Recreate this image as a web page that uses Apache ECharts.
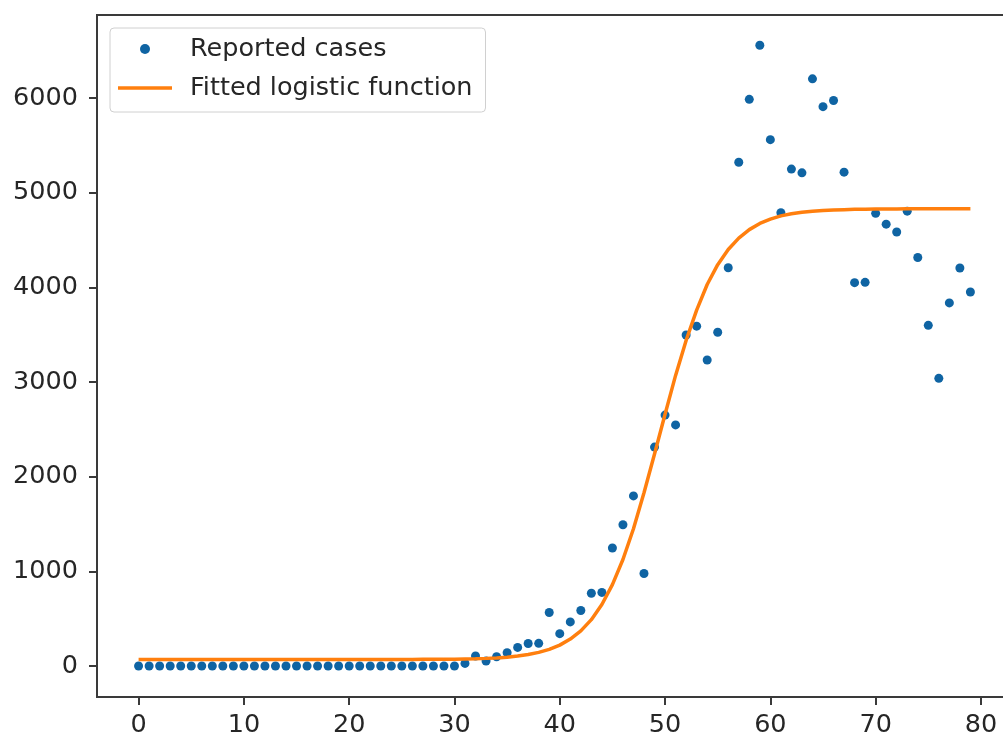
<!DOCTYPE html>
<html>
<head>
<meta charset="utf-8">
<title>Reported cases and fitted logistic function</title>
<script src="https://cdn.jsdelivr.net/npm/echarts@6/dist/echarts.min.js"></script>
<style>
  html, body { margin: 0; padding: 0; background: #ffffff; }
  #chart { width: 1003px; height: 738px; }
</style>
</head>
<body>
<div id="chart"></div>
<script>
// Day index of each observation
const days = [
  0, 1, 2, 3, 4, 5, 6, 7, 8, 9,
  10, 11, 12, 13, 14, 15, 16, 17, 18, 19,
  20, 21, 22, 23, 24, 25, 26, 27, 28, 29,
  30, 31, 32, 33, 34, 35, 36, 37, 38, 39,
  40, 41, 42, 43, 44, 45, 46, 47, 48, 49,
  50, 51, 52, 53, 54, 55, 56, 57, 58, 59,
  60, 61, 62, 63, 64, 65, 66, 67, 68, 69,
  70, 71, 72, 73, 74, 75, 76, 77, 78, 79
];

// Daily reported cases
const reportedCases = [
  0, 0, 0, 0, 0, 0, 0, 0, 0, 0,
  0, 0, 0, 0, 0, 0, 0, 0, 0, 0,
  0, 0, 0, 0, 0, 0, 0, 0, 0, 0,
  0, 28, 106, 53, 98, 141, 197, 238, 240, 566,
  342, 466, 587, 769, 778, 1247, 1492, 1797, 977, 2313,
  2651, 2547, 3497, 3590, 3233, 3526, 4207, 5322, 5986, 6557,
  5560, 4789, 5249, 5210, 6203, 5909, 5974, 5217, 4050, 4053,
  4782, 4668, 4585, 4805, 4316, 3599, 3039, 3836, 4204, 3951
];

// Fitted logistic curve evaluated on each day
const fittedCurve = [
  70, 70, 70, 70, 70, 70, 70, 70, 70, 70,
  70, 70, 70, 70, 70, 70, 70, 70, 70, 70,
  70, 70, 70, 70, 70, 70, 70, 71, 71, 72,
  73, 75, 77, 81, 86, 94, 105, 121, 144, 176,
  221, 285, 372, 490, 650, 860, 1125, 1450, 1830, 2240,
  2660, 3070, 3440, 3760, 4030, 4240, 4400, 4520, 4610, 4675,
  4720, 4755, 4778, 4793, 4804, 4812, 4817, 4821, 4824, 4826,
  4827, 4828, 4829, 4830, 4830, 4830, 4830, 4830, 4830, 4830
];

// Tick positions
const xTicks = [0, 10, 20, 30, 40, 50, 60, 70, 80];
const yTicks = [0, 1000, 2000, 3000, 4000, 5000, 6000];

const seriesNames = ['Reported cases', 'Fitted logistic function'];

const FONT = 'DejaVu Sans';
const TEXT = '#262626';
const SPINE = '#3a3a3a';
const BLUE = '#0f64a3';
const ORANGE = '#ff7f0e';
const FONT_SIZE = 25.5;

const chart = echarts.init(document.getElementById('chart'), null, { renderer: 'canvas' });

chart.setOption({
  backgroundColor: '#ffffff',
  animation: false,
  grid: {
    left: 97,
    top: 15,
    width: 915,
    height: 682,
    outerBoundsMode: 'none',
    containLabel: false,
    show: true,
    borderColor: SPINE,
    borderWidth: 2,
    backgroundColor: 'transparent'
  },
  legend: {
    orient: 'vertical',
    left: 110,
    top: 28,
    padding: [8, 13, 11, 8],
    itemGap: 13,
    itemWidth: 54,
    itemHeight: 10,
    backgroundColor: '#ffffff',
    borderColor: '#d0d0d0',
    borderWidth: 1,
    borderRadius: 4,
    textStyle: {
      fontFamily: FONT,
      fontSize: FONT_SIZE,
      color: TEXT,
      padding: [0, 0, 0, 13]
    },
    data: [
      { name: seriesNames[0], icon: 'circle', itemStyle: { color: BLUE, opacity: 1 } },
      { name: seriesNames[1], icon: 'path://M0,0 L54,0 L54,3.5 L0,3.5 Z', itemStyle: { color: ORANGE } }
    ]
  },
  xAxis: {
    type: 'value',
    min: -3.95,
    max: 82.95,
    splitLine: { show: false },
    axisLine: { show: false, onZero: false },
    axisTick: {
      show: true,
      length: 8,
      lineStyle: { color: SPINE, width: 2 },
      customValues: xTicks
    },
    axisLabel: {
      fontFamily: FONT,
      fontSize: FONT_SIZE,
      color: TEXT,
      margin: 15,
      customValues: xTicks,
      formatter: (v) => String(v)
    }
  },
  yAxis: {
    type: 'value',
    min: -327,
    max: 6877,
    splitLine: { show: false },
    axisLine: { show: false, onZero: false },
    axisTick: {
      show: true,
      length: 8,
      lineStyle: { color: SPINE, width: 2 },
      customValues: yTicks
    },
    axisLabel: {
      fontFamily: FONT,
      fontSize: FONT_SIZE,
      color: TEXT,
      margin: 19,
      customValues: yTicks,
      formatter: (v) => String(v)
    }
  },
  series: [
    {
      name: seriesNames[0],
      type: 'scatter',
      symbol: 'circle',
      symbolSize: 9,
      itemStyle: { color: BLUE, opacity: 1 },
      z: 2,
      data: days.map((d, i) => [d, reportedCases[i]])
    },
    {
      name: seriesNames[1],
      type: 'line',
      showSymbol: false,
      symbol: 'none',
      smooth: false,
      lineStyle: { color: ORANGE, width: 3.5 },
      itemStyle: { color: ORANGE },
      z: 3,
      data: days.map((d, i) => [d, fittedCurve[i]])
    }
  ]
});
</script>
</body>
</html>
